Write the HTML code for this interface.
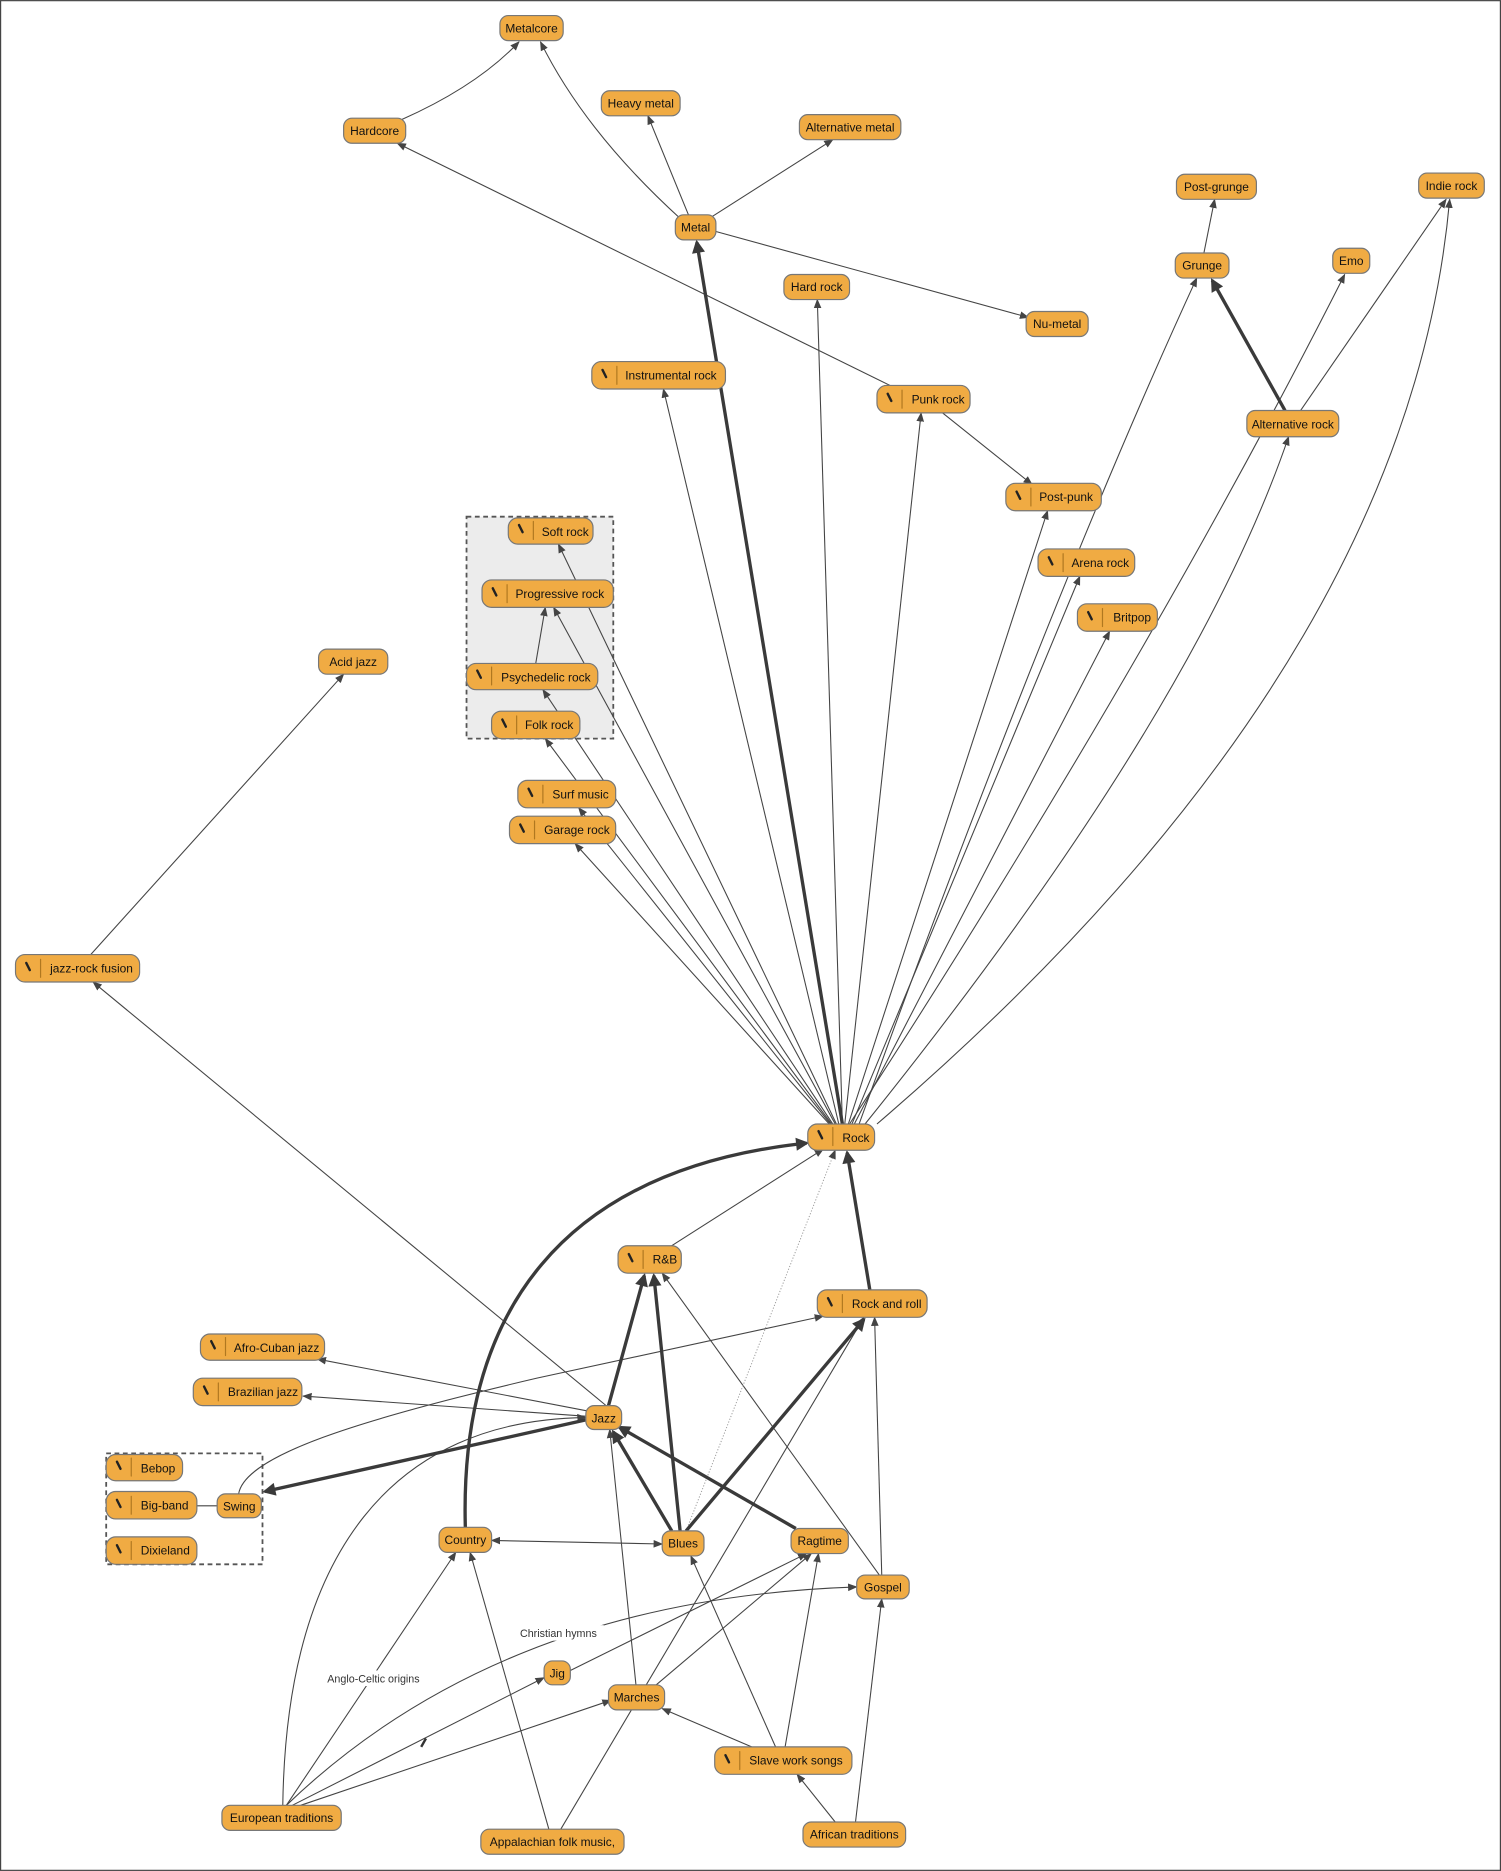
<!DOCTYPE html>
<html><head><meta charset="utf-8"><style>
html,body{margin:0;padding:0;background:#fff}
svg{display:block}
text{font-family:"Liberation Sans",sans-serif;font-size:10px;fill:#111}
.n{fill:#f0ab43;stroke:#777;stroke-width:1}
.e{fill:none;stroke:#444;stroke-width:0.9}
.t{fill:none;stroke:#3a3a3a;stroke-width:2.8}
</style></head><body>
<svg width="1501" height="1871" viewBox="0 0 1258 1568" xmlns="http://www.w3.org/2000/svg">
<defs>
<marker id="a" viewBox="0 0 10 10" refX="9" refY="5" markerWidth="8" markerHeight="8" markerUnits="userSpaceOnUse" orient="auto"><path d="M0,1 L10,5 L0,9 z" fill="#444"/></marker>
<marker id="as" viewBox="0 0 10 10" refX="1" refY="5" markerWidth="8" markerHeight="8" markerUnits="userSpaceOnUse" orient="auto"><path d="M10,1 L0,5 L10,9 z" fill="#444"/></marker>
<marker id="b" viewBox="0 0 10 10" refX="8" refY="5" markerWidth="12" markerHeight="11" markerUnits="userSpaceOnUse" orient="auto"><path d="M0,0 L10,5 L0,10 z" fill="#3a3a3a"/></marker>
</defs>
<rect x="0.5" y="0.5" width="1257" height="1567" fill="#fff" stroke="#444"/>
<rect x="391" y="433" width="123" height="186" fill="#ececec" stroke="#555" stroke-width="1.5" stroke-dasharray="4,3"/>
<rect x="89" y="1218" width="131" height="93" fill="none" stroke="#555" stroke-width="1.5" stroke-dasharray="4,3"/>
<g class="e" marker-end="url(#a)">
<path d="M337,100 Q400,72 435,35"/>
<path d="M570,183 Q490,110 453,35"/>
<path d="M577,180 L543,97"/>
<path d="M596,182 L698,117"/>
<path d="M600,194 L862,266"/>
<path d="M750,325 L333,120"/>
<path d="M790,346 L865,406"/>
<path d="M1009,212 L1018,167"/>
<path d="M1090,344 L1212,167"/>
<path d="M712,942 Q960,560 1127,230"/>
<path d="M735,942 Q1180,560 1215,167"/>
<path d="M725,942 Q1000,600 1080,366"/>
<path d="M720,942 Q880,500 1003,233"/>
<path d="M716,942 L930,529"/>
<path d="M714,942 L905,483"/>
<path d="M711,942 L878,428"/>
<path d="M708,942 L772,346"/>
<path d="M706,942 L685,251"/>
<path d="M703,942 Q620,600 556,326"/>
<path d="M701,942 L468,456"/>
<path d="M700,942 L464,509"/>
<path d="M698,942 L455,578"/>
<path d="M697,942 L457,619"/>
<path d="M696,942 L485,677"/>
<path d="M695,942 L482,707"/>
<path d="M449,556 L457,509"/>
<path d="M563,1044 L690,963"/>
<path d="M508,1178 L78,823"/>
<path d="M76,800 L288,565"/>
<path d="M495,1183 L266,1139"/>
<path d="M492,1187 L254,1170"/>
<path d="M200,1252 C205,1220 300,1190 450,1155 L690,1103"/>
<path d="M412,1291 L555,1294" marker-start="url(#as)"/>
<path d="M739,1320 L733,1104"/>
<path d="M737,1320 L555,1067"/>
<path d="M533,1412 L511,1198"/>
<path d="M470,1533 L724,1104"/>
<path d="M550,1412 L680,1302"/>
<path d="M478,1400 L676,1302"/>
<path d="M240,1513 Q420,1340 718,1330"/>
<path d="M240,1513 L382,1301"/>
<path d="M237,1513 C240,1300 330,1190 491,1188"/>
<path d="M245,1513 L456,1406"/>
<path d="M252,1513 L512,1425"/>
<path d="M460,1533 L394,1301"/>
<path d="M650,1464 L579,1304"/>
<path d="M658,1464 L686,1302"/>
<path d="M630,1464 L555,1432"/>
<path d="M700,1527 L668,1487"/>
<path d="M717,1527 L739,1340"/>
</g>
<path d="M575,1283 L700,964" fill="none" stroke="#999" stroke-width="0.8" stroke-dasharray="1,1.5" marker-end="url(#a)"/>
<path d="M165,1262 L182,1262" stroke="#444" stroke-width="0.9"/>
<path d="M353,1464 L357,1457" stroke="#333" stroke-width="2"/>
<g class="t" marker-end="url(#b)">
<path d="M706,942 L584,203"/>
<path d="M729,1081 L710,966"/>
<path d="M390,1280 C385,1100 470,980 676,958"/>
<path d="M510,1178 L540,1069"/>
<path d="M570,1283 L548,1069"/>
<path d="M563,1283 L514,1200"/>
<path d="M667,1281 L519,1196"/>
<path d="M491,1190 L222,1250"/>
<path d="M575,1283 L724,1106"/>
<path d="M1077,344 L1016,235"/>
</g>
<rect x="430" y="1362" width="76" height="13" fill="#fff"/>
<text x="468" y="1372" text-anchor="middle" style="font-size:9px;fill:#333">Christian hymns</text>
<rect x="272" y="1400" width="82" height="13" fill="#fff"/>
<text x="313" y="1410" text-anchor="middle" style="font-size:9px;fill:#333">Anglo-Celtic origins</text>
<g id="nodes">
<g><rect class="n" x="419" y="13" width="53" height="21" rx="7"/><text x="445.5" y="27" text-anchor="middle">Metalcore</text></g>
<g><rect class="n" x="504" y="76" width="66" height="21" rx="7"/><text x="537" y="90" text-anchor="middle">Heavy metal</text></g>
<g><rect class="n" x="288" y="99" width="52" height="21" rx="7"/><text x="314" y="113" text-anchor="middle">Hardcore</text></g>
<g><rect class="n" x="670" y="96" width="85" height="21" rx="7"/><text x="712.5" y="110" text-anchor="middle">Alternative metal</text></g>
<g><rect class="n" x="566" y="180" width="34" height="21" rx="7"/><text x="583" y="194" text-anchor="middle">Metal</text></g>
<g><rect class="n" x="986" y="146" width="67" height="21" rx="7"/><text x="1019.5" y="160" text-anchor="middle">Post-grunge</text></g>
<g><rect class="n" x="1189" y="145" width="55" height="21" rx="7"/><text x="1216.5" y="159" text-anchor="middle">Indie rock</text></g>
<g><rect class="n" x="985" y="212" width="45" height="21" rx="7"/><text x="1007.5" y="226" text-anchor="middle">Grunge</text></g>
<g><rect class="n" x="1117" y="208" width="31" height="21" rx="7"/><text x="1132.5" y="222" text-anchor="middle">Emo</text></g>
<g><rect class="n" x="657" y="230" width="55" height="21" rx="7"/><text x="684.5" y="244" text-anchor="middle">Hard rock</text></g>
<g><rect class="n" x="860" y="261" width="52" height="21" rx="7"/><text x="886" y="275" text-anchor="middle">Nu-metal</text></g>
<g><rect class="n" x="1045" y="344" width="77" height="22" rx="7"/><text x="1083.5" y="359" text-anchor="middle">Alternative rock</text></g>
<g><rect class="n" x="267" y="544" width="58" height="21" rx="7"/><text x="296" y="558" text-anchor="middle">Acid jazz</text></g>
<g><rect class="n" x="491" y="1178" width="30" height="20" rx="7"/><text x="506" y="1192" text-anchor="middle">Jazz</text></g>
<g><rect class="n" x="182" y="1252" width="37" height="20" rx="7"/><text x="200.5" y="1266" text-anchor="middle">Swing</text></g>
<g><rect class="n" x="368" y="1280" width="44" height="21" rx="7"/><text x="390" y="1294" text-anchor="middle">Country</text></g>
<g><rect class="n" x="555" y="1283" width="35" height="21" rx="7"/><text x="572.5" y="1297" text-anchor="middle">Blues</text></g>
<g><rect class="n" x="663" y="1281" width="48" height="21" rx="7"/><text x="687" y="1295" text-anchor="middle">Ragtime</text></g>
<g><rect class="n" x="718" y="1320" width="44" height="20" rx="7"/><text x="740" y="1334" text-anchor="middle">Gospel</text></g>
<g><rect class="n" x="456" y="1392" width="22" height="20" rx="7"/><text x="467" y="1406" text-anchor="middle">Jig</text></g>
<g><rect class="n" x="510" y="1412" width="47" height="21" rx="7"/><text x="533.5" y="1426" text-anchor="middle">Marches</text></g>
<g><rect class="n" x="186" y="1513" width="100" height="21" rx="7"/><text x="236" y="1527" text-anchor="middle">European traditions</text></g>
<g><rect class="n" x="403" y="1533" width="120" height="21" rx="7"/><text x="463" y="1547" text-anchor="middle">Appalachian folk music,</text></g>
<g><rect class="n" x="673" y="1527" width="86" height="21" rx="7"/><text x="716" y="1541" text-anchor="middle">African traditions</text></g>
</g>
<g id="inodes" stroke-linecap="round">
<!-- icon nodes: rect, pencil, divider, label -->
<g><rect class="n" x="496" y="303" width="112" height="23" rx="8"/><path d="M505,310 l3,6" stroke="#222" stroke-width="2"/><path d="M517,307 v15" stroke="#b07820"/><text x="524" y="318">Instrumental rock</text></g>
<g><rect class="n" x="735" y="323" width="78" height="23" rx="8"/><path d="M744,330 l3,6" stroke="#222" stroke-width="2"/><path d="M756,327 v15" stroke="#b07820"/><text x="764" y="338">Punk rock</text></g>
<g><rect class="n" x="843" y="405" width="80" height="23" rx="8"/><path d="M852,412 l3,6" stroke="#222" stroke-width="2"/><path d="M864,409 v15" stroke="#b07820"/><text x="871" y="420">Post-punk</text></g>
<g><rect class="n" x="426" y="434" width="71" height="22" rx="8"/><path d="M435,440 l3,6" stroke="#222" stroke-width="2"/><path d="M447,437 v15" stroke="#b07820"/><text x="454" y="449">Soft rock</text></g>
<g><rect class="n" x="404" y="486" width="110" height="23" rx="8"/><path d="M413,493 l3,6" stroke="#222" stroke-width="2"/><path d="M425,490 v15" stroke="#b07820"/><text x="432" y="501">Progressive rock</text></g>
<g><rect class="n" x="391" y="556" width="110" height="22" rx="8"/><path d="M400,562 l3,6" stroke="#222" stroke-width="2"/><path d="M412,559 v15" stroke="#b07820"/><text x="420" y="571">Psychedelic rock</text></g>
<g><rect class="n" x="412" y="596" width="74" height="23" rx="8"/><path d="M421,603 l3,6" stroke="#222" stroke-width="2"/><path d="M433,600 v15" stroke="#b07820"/><text x="440" y="611">Folk rock</text></g>
<g><rect class="n" x="870" y="460" width="81" height="23" rx="8"/><path d="M879,467 l3,6" stroke="#222" stroke-width="2"/><path d="M891,464 v15" stroke="#b07820"/><text x="898" y="475">Arena rock</text></g>
<g><rect class="n" x="903" y="506" width="67" height="23" rx="8"/><path d="M912,513 l3,6" stroke="#222" stroke-width="2"/><path d="M924,510 v15" stroke="#b07820"/><text x="933" y="521">Britpop</text></g>
<g><rect class="n" x="434" y="654" width="82" height="23" rx="8"/><path d="M443,661 l3,6" stroke="#222" stroke-width="2"/><path d="M455,658 v15" stroke="#b07820"/><text x="463" y="669">Surf music</text></g>
<g><rect class="n" x="427" y="684" width="89" height="23" rx="8"/><path d="M436,691 l3,6" stroke="#222" stroke-width="2"/><path d="M448,688 v15" stroke="#b07820"/><text x="456" y="699">Garage rock</text></g>
<g><rect class="n" x="13" y="800" width="104" height="23" rx="8"/><path d="M22,807 l3,6" stroke="#222" stroke-width="2"/><path d="M34,804 v15" stroke="#b07820"/><text x="42" y="815">jazz-rock fusion</text></g>
<g><rect class="n" x="677" y="942" width="56" height="22" rx="8"/><path d="M686,948 l3,6" stroke="#222" stroke-width="2"/><path d="M698,945 v15" stroke="#b07820"/><text x="706" y="957">Rock</text></g>
<g><rect class="n" x="518" y="1044" width="53" height="23" rx="8"/><path d="M527,1051 l3,6" stroke="#222" stroke-width="2"/><path d="M539,1048 v15" stroke="#b07820"/><text x="547" y="1059">R&amp;B</text></g>
<g><rect class="n" x="685" y="1081" width="92" height="23" rx="8"/><path d="M694,1088 l3,6" stroke="#222" stroke-width="2"/><path d="M706,1085 v15" stroke="#b07820"/><text x="714" y="1096">Rock and roll</text></g>
<g><rect class="n" x="168" y="1118" width="104" height="22" rx="8"/><path d="M177,1124 l3,6" stroke="#222" stroke-width="2"/><path d="M189,1121 v15" stroke="#b07820"/><text x="196" y="1133">Afro-Cuban jazz</text></g>
<g><rect class="n" x="162" y="1155" width="91" height="23" rx="8"/><path d="M171,1162 l3,6" stroke="#222" stroke-width="2"/><path d="M183,1159 v15" stroke="#b07820"/><text x="191" y="1170">Brazilian jazz</text></g>
<g><rect class="n" x="89" y="1219" width="64" height="22" rx="8"/><path d="M98,1225 l3,6" stroke="#222" stroke-width="2"/><path d="M110,1222 v15" stroke="#b07820"/><text x="118" y="1234">Bebop</text></g>
<g><rect class="n" x="89" y="1250" width="76" height="23" rx="8"/><path d="M98,1257 l3,6" stroke="#222" stroke-width="2"/><path d="M110,1254 v15" stroke="#b07820"/><text x="118" y="1265">Big-band</text></g>
<g><rect class="n" x="89" y="1288" width="76" height="23" rx="8"/><path d="M98,1295 l3,6" stroke="#222" stroke-width="2"/><path d="M110,1292 v15" stroke="#b07820"/><text x="118" y="1303">Dixieland</text></g>
<g><rect class="n" x="599" y="1464" width="115" height="23" rx="8"/><path d="M608,1471 l3,6" stroke="#222" stroke-width="2"/><path d="M620,1468 v15" stroke="#b07820"/><text x="628" y="1479">Slave work songs</text></g>
</g>
</svg>
</body></html>
